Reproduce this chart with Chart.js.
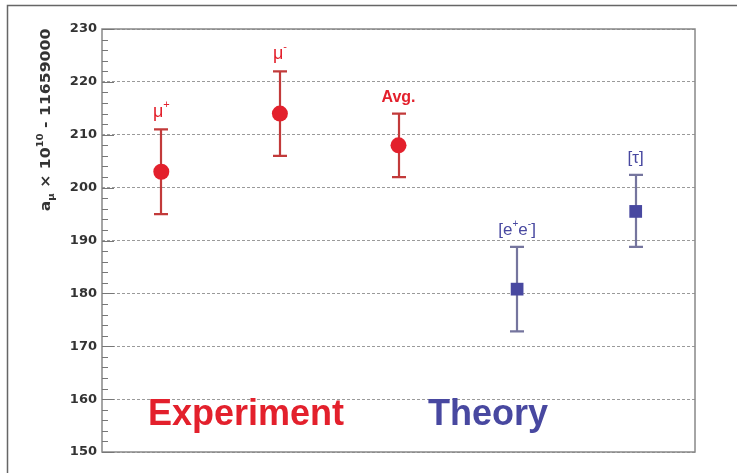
<!DOCTYPE html>
<html>
<head>
<meta charset="utf-8">
<script src="https://cdn.jsdelivr.net/npm/chart.js@4/dist/chart.umd.min.js"></script>
<style>
  html, body { margin: 0; padding: 0; background: #fff; }
  #wrap { width: 737px; height: 473px; }
</style>
</head>
<body>
<div id="wrap"><canvas id="chart"></canvas></div>
<script>
// measurements and predictions (a_mu x 1e10 - 11659000)
const positions = [1, 2, 3, 4, 5];
const values = [203, 214, 208, 180.8, 195.5];
const errLow = [195, 206, 202, 172.8, 188.8];
const errHigh = [211, 222, 214, 188.8, 202.4];
const groups = ["exp", "exp", "exp", "th", "th"];
const yTicks = [150, 160, 170, 180, 190, 200, 210, 220, 230];

const RED = "#e3202c";
const RED_BAR = "#c23a3a";
const BLUE = "#4848a0";
const BLUE_BAR = "#75759e";

const expIdx = positions.map((p, i) => i).filter(i => groups[i] === "exp");
const thIdx = positions.map((p, i) => i).filter(i => groups[i] === "th");

// draws text pieces: [text, sizeScale, dy]
function drawPieces(ctx, pieces, cx, y, size, weight, color, family) {
  family = family || "'Liberation Sans', Arial, sans-serif";
  ctx.save();
  ctx.fillStyle = color;
  ctx.textBaseline = "alphabetic";
  let total = 0;
  pieces.forEach(p => {
    ctx.font = weight + " " + Math.round(size * p[1]) + "px " + family;
    total += ctx.measureText(p[0]).width;
  });
  let x = cx - total / 2;
  pieces.forEach(p => {
    ctx.font = weight + " " + Math.round(size * p[1]) + "px " + family;
    ctx.fillText(p[0], x, y + p[2]);
    x += ctx.measureText(p[0]).width;
  });
  ctx.restore();
}

const pointLabels = [
  { pieces: [["μ", 1, 0], ["+", 0.6, -9]], size: 18, weight: "normal", color: RED },
  { pieces: [["μ", 1, 0], ["-", 0.6, -9]], size: 18, weight: "normal", color: RED },
  { pieces: [["Avg.", 1, 0]], size: 16, weight: "bold", color: RED },
  { pieces: [["[e", 1, 0], ["+", 0.6, -8], ["e", 1, 0], ["-", 0.6, -8], ["]", 1, 0]], size: 17, weight: "normal", color: BLUE },
  { pieces: [["[τ]", 1, 0]], size: 17, weight: "normal", color: BLUE }
];

const decoPlugin = {
  id: "deco",
  beforeDraw(chart) {
    const ctx = chart.ctx;
    ctx.save();
    ctx.fillStyle = "#fff";
    ctx.fillRect(0, 0, chart.width, chart.height);
    // outer frame
    ctx.strokeStyle = "#666";
    ctx.lineWidth = 1.5;
    ctx.beginPath();
    ctx.moveTo(7.5, chart.height);
    ctx.lineTo(7.5, 5.5);
    ctx.lineTo(chart.width, 5.5);
    ctx.stroke();
    ctx.restore();
  },
  afterDatasetsDraw(chart) {
    const ctx = chart.ctx;
    const xs = chart.scales.x, ys = chart.scales.y;
    const a = chart.chartArea;
    ctx.save();
    // plot frame
    ctx.strokeStyle = "#888";
    ctx.lineWidth = 1.5;
    ctx.strokeRect(a.left, a.top, a.right - a.left, a.bottom - a.top);
    // ticks on left axis (inside)
    ctx.strokeStyle = "#777";
    ctx.lineWidth = 1;
    for (let v = 150; v <= 230; v += 2) {
      const y = Math.round(ys.getPixelForValue(v)) + 0.5;
      const len = v % 10 === 0 ? 12 : 6;
      ctx.beginPath();
      ctx.moveTo(a.left, y);
      ctx.lineTo(a.left + len, y);
      ctx.stroke();
    }
    // point labels
    positions.forEach((p, i) => {
      const x = xs.getPixelForValue(p);
      const yTop = ys.getPixelForValue(errHigh[i]);
      const l = pointLabels[i];
      drawPieces(ctx, l.pieces, x, yTop - 12, l.size, l.weight, l.color);
    });
    // group captions
    drawPieces(ctx, [["Experiment", 1, 0]], 246, 425, 36, "bold", RED);
    drawPieces(ctx, [["Theory", 1, 0]], 488, 425, 36, "bold", BLUE);
    // y axis title
    ctx.translate(50, 120);
    ctx.rotate(-Math.PI / 2);
    ctx.scale(1.12, 1);
    drawPieces(ctx, [["a", 1, 0], ["μ", 0.65, 4], [" × 10", 1, 0], ["10", 0.65, -7], [" - 11659000", 1, 0]], 0, 0, 14, "bold", "#333", "'DejaVu Sans', sans-serif");
    ctx.restore();
  }
};

const errorBarPlugin = {
  id: "errorBars",
  beforeDatasetsDraw(chart) {
    const ctx = chart.ctx;
    const xs = chart.scales.x, ys = chart.scales.y;
    ctx.save();
    ctx.lineWidth = 2.2;
    positions.forEach((p, i) => {
      const x = Math.round(xs.getPixelForValue(p));
      const y1 = ys.getPixelForValue(errLow[i]);
      const y2 = ys.getPixelForValue(errHigh[i]);
      ctx.strokeStyle = groups[i] === "exp" ? RED_BAR : BLUE_BAR;
      ctx.beginPath();
      ctx.moveTo(x, y1); ctx.lineTo(x, y2);
      ctx.moveTo(x - 7, y1); ctx.lineTo(x + 7, y1);
      ctx.moveTo(x - 7, y2); ctx.lineTo(x + 7, y2);
      ctx.stroke();
    });
    ctx.restore();
  }
};

new Chart(document.getElementById("chart"), {
  type: "scatter",
  data: {
    datasets: [
      {
        label: "Experiment",
        data: expIdx.map(i => ({ x: positions[i], y: values[i] })),
        pointStyle: "circle",
        pointRadius: 8,
        backgroundColor: RED,
        borderColor: RED,
        borderWidth: 0
      },
      {
        label: "Theory",
        data: thIdx.map(i => ({ x: positions[i], y: values[i] })),
        pointStyle: "rect",
        pointRadius: 9,
        backgroundColor: BLUE,
        borderColor: BLUE,
        borderWidth: 0
      }
    ]
  },
  options: {
    responsive: true,
    maintainAspectRatio: false,
    animation: false,
    layout: { padding: { left: 0, top: 29, right: 42, bottom: 21 } },
    plugins: { legend: { display: false }, tooltip: { enabled: false } },
    scales: {
      x: {
        type: "linear",
        min: 0.5,
        max: 5.5,
        display: false
      },
      y: {
        min: 150,
        max: 230,
        afterFit(scale) { scale.width = 102; },
        afterBuildTicks(scale) { scale.ticks = yTicks.map(v => ({ value: v })); },
        ticks: {
          color: "#333",
          padding: 5,
          font: { family: "'DejaVu Sans', sans-serif", size: 13, weight: "bold" }
        },
        grid: { color: "#9a9a9a", lineWidth: 1, drawTicks: false },
        border: { display: false, dash: [3, 2] }
      }
    }
  },
  plugins: [decoPlugin, errorBarPlugin]
});
</script>
</body>
</html>
